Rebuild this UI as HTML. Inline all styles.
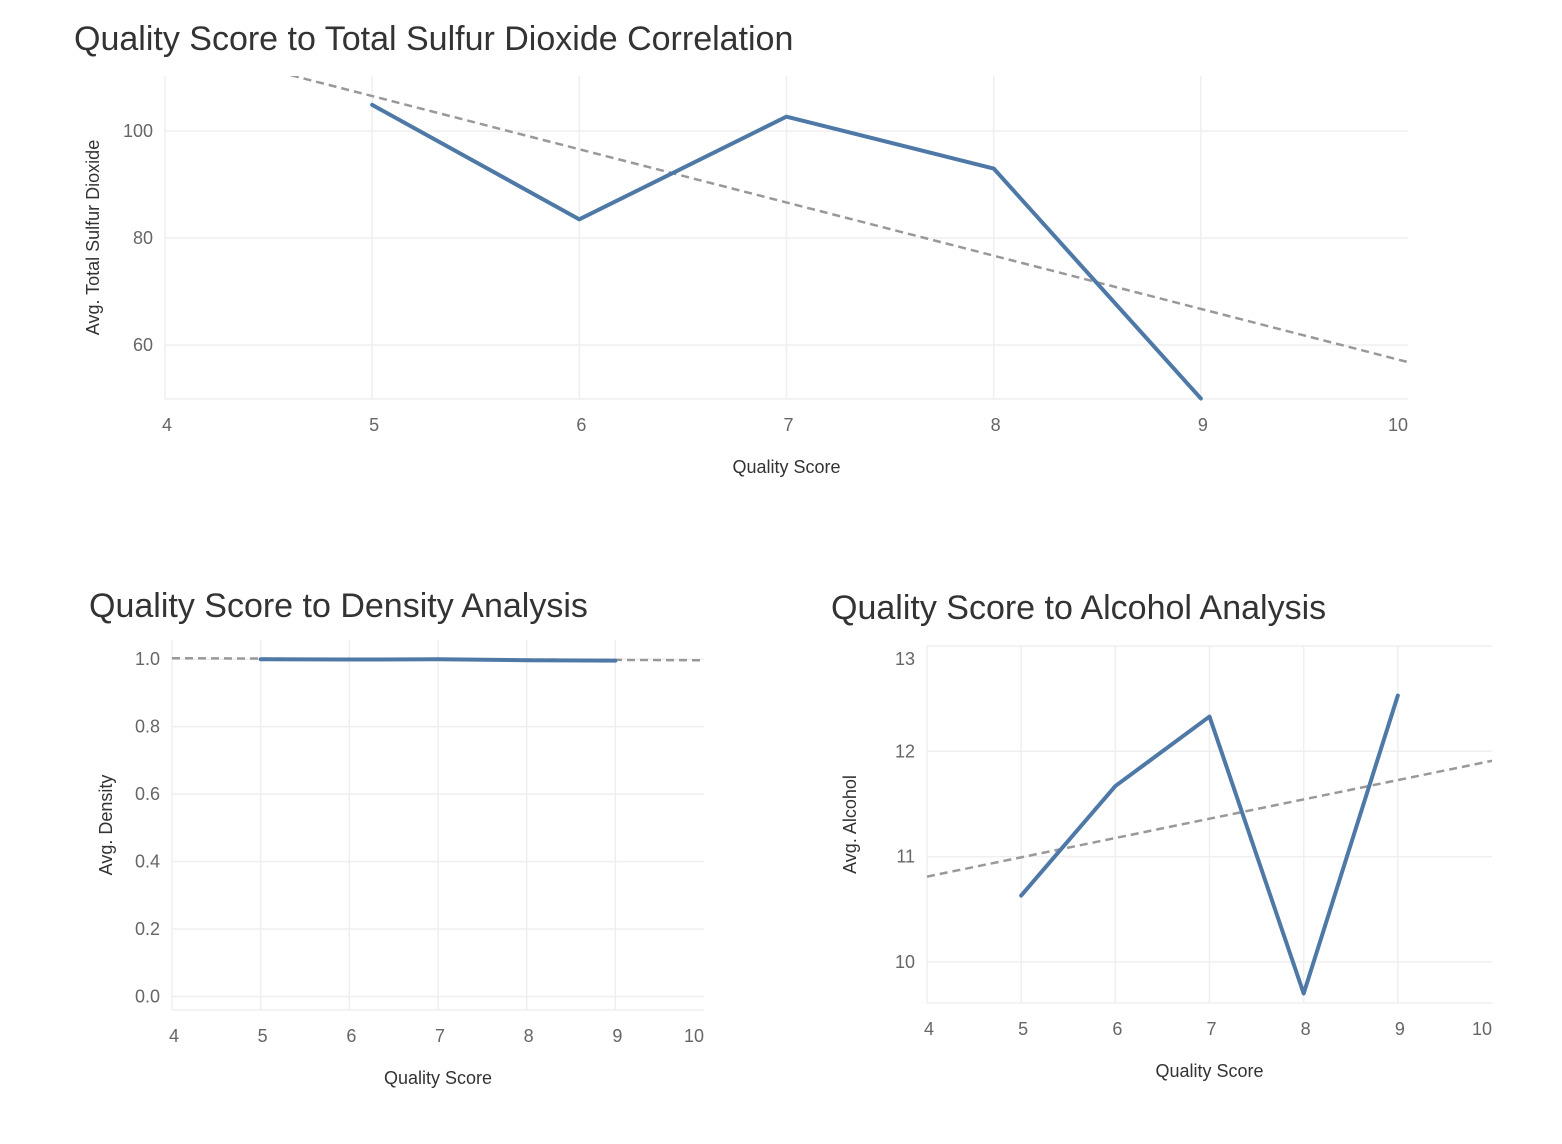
<!DOCTYPE html>
<html><head><meta charset="utf-8">
<style>
body{margin:0;background:#fff;font-family:"Liberation Sans",sans-serif;}
svg{display:block}
.title{font-size:34px;fill:#333;}
.tick{font-size:18px;fill:#666;}
.axt{font-size:18px;fill:#333;}
</style></head><body>
<svg id="chart" width="1562" height="1144"></svg>
<script>
const categories = [5, 6, 7, 8, 9];
const sulfurValues = [104.9, 83.5, 102.7, 93.0, 50.0];
const sulfurTrend = [116.5, 56.8];   // trend value at x=4 and x=10
const densityValues = [1.0, 0.999, 1.0, 0.997, 0.996];
const densityTrend = [1.003, 0.997];
const alcoholValues = [10.63, 11.67, 12.33, 9.7, 12.53];
const alcoholTrend = [10.81, 11.91];
const xTicks = [4, 5, 6, 7, 8, 9, 10];
const sulfurTicks = [60, 80, 100];
const densityTicks = [0.0, 0.2, 0.4, 0.6, 0.8, 1.0];
const alcoholTicks = [10, 11, 12, 13];

const svg = document.getElementById('chart');
const NS = 'http://www.w3.org/2000/svg';
function mk(tag, attrs, parent, text){
  const e = document.createElementNS(NS, tag);
  for (const k in attrs) e.setAttribute(k, attrs[k]);
  if (text !== undefined) e.textContent = text;
  (parent || svg).appendChild(e);
  return e;
}
function chart(cfg){
  const g = mk('g', {});
  
  
  const x = v => cfg.L + (v - 4) / 6 * (cfg.R - cfg.L);
  const y = v => cfg.B - (v - cfg.ymin) / (cfg.ymax - cfg.ymin) * (cfg.B - cfg.T);
  const t = mk('text', {x: cfg.tx, y: cfg.ty, class: 'title'}, g, cfg.title);
  
  
  xTicks.forEach((v, i) => {
    if (i < xTicks.length - 1)
      mk('line', {x1: x(v), x2: x(v), y1: cfg.T, y2: cfg.B, stroke: '#efefef', 'stroke-width': 1.5}, g);
    const last = i === xTicks.length - 1;
    const tl = mk('text', {x: last ? cfg.R : x(v) - 3, y: cfg.B + 32, class: 'tick', 'text-anchor': last ? 'end' : 'start'}, g, String(v));
    
    
  });
  cfg.ticks.forEach(v => {
    mk('line', {x1: cfg.L, x2: cfg.R, y1: y(v), y2: y(v), stroke: '#efefef', 'stroke-width': 1.5}, g);
    const ly = Math.min(Math.max(y(v), cfg.T + 13), cfg.B - 13);
    const tl = mk('text', {x: cfg.L - 12, y: ly + 6, class: 'tick', 'text-anchor': 'end'}, g, cfg.fmt(v));
    
    
  });
  mk('line', {x1: cfg.L, x2: cfg.R, y1: cfg.B, y2: cfg.B, stroke: '#efefef', 'stroke-width': 1.5}, g);
  const clip = 'clip-' + cfg.name;
  const cp = mk('clipPath', {id: clip}, g);
  mk('rect', {x: cfg.L, y: cfg.T, width: cfg.R - cfg.L, height: cfg.B - cfg.T + 2}, cp);
  const tr = mk('line', {x1: x(4), y1: y(cfg.trend[0]), x2: x(10), y2: y(cfg.trend[1]),
    stroke: '#999', 'stroke-width': 2.5, 'stroke-dasharray': '8,5', 'clip-path': 'url(#' + clip + ')'}, g);
  
  
  const pts = categories.map((c, i) => x(c) + ',' + y(cfg.values[i])).join(' ');
  const pl = mk('polyline', {points: pts, fill: 'none', stroke: '#4e79a7', 'stroke-width': 4,
    'stroke-linejoin': 'round', 'stroke-linecap': 'round', 'clip-path': 'url(#' + clip + ')'}, g);
  
  
  const xt = mk('text', {x: (cfg.L + cfg.R) / 2, y: cfg.B + 74, class: 'axt', 'text-anchor': 'middle'}, g, 'Quality Score');
  
  
  const cy = (cfg.T + cfg.B) / 2;
  const yt = mk('text', {x: cfg.ytx, y: cy, class: 'axt', 'text-anchor': 'middle', transform: 'rotate(-90 ' + cfg.ytx + ' ' + cy + ')'}, g, cfg.ytitle);
  
  
}
chart({name: 'sulfur-chart', title: 'Quality Score to Total Sulfur Dioxide Correlation', tx: 74, ty: 50,
  L: 165, R: 1408, T: 76, B: 399, ymin: 49.9, ymax: 110.3, ticks: sulfurTicks, fmt: v => String(v),
  values: sulfurValues, trend: sulfurTrend, ytitle: 'Avg. Total Sulfur Dioxide', ytx: 99});
chart({name: 'density-chart', title: 'Quality Score to Density Analysis', tx: 89, ty: 617,
  L: 172, R: 704, T: 640, B: 1010, ymin: -0.04, ymax: 1.057, ticks: densityTicks, fmt: v => v.toFixed(1),
  values: densityValues, trend: densityTrend, ytitle: 'Avg. Density', ytx: 112});
chart({name: 'alcohol-chart', title: 'Quality Score to Alcohol Analysis', tx: 831, ty: 619,
  L: 927, R: 1492, T: 646, B: 1003, ymin: 9.61, ymax: 13.0, ticks: alcoholTicks, fmt: v => String(v),
  values: alcoholValues, trend: alcoholTrend, ytitle: 'Avg. Alcohol', ytx: 856});
</script>
</body></html>
